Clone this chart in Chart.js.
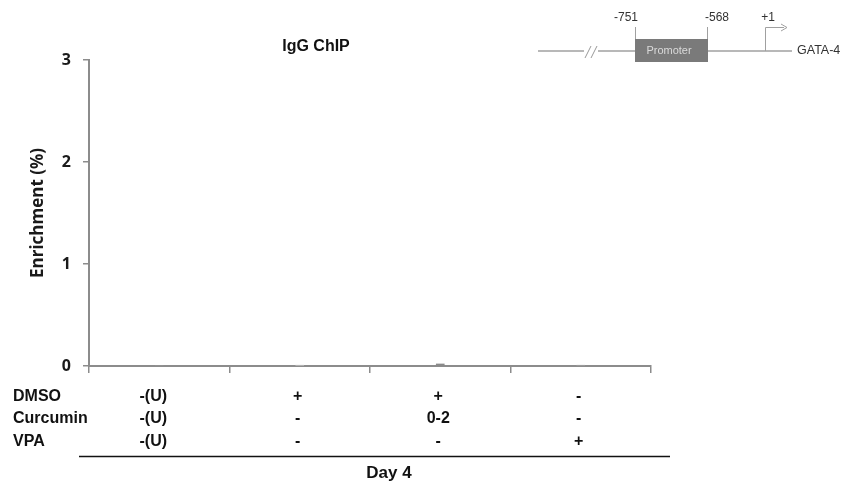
<!DOCTYPE html>
<html>
<head>
<meta charset="utf-8">
<script src="https://cdn.jsdelivr.net/npm/chart.js@4"></script>
<style>
  html, body { margin: 0; padding: 0; background: #fff; }
  #wrap { width: 843px; height: 489px; }
</style>
</head>
<body>
<div id="wrap"><canvas id="myChart" width="843" height="489"></canvas></div>
<script>
// data
let groups = ["g1", "g2", "g3", "g4"];
let enrichment = [0, 0.008, 0.02, 0.003];
let barColors = ["#9a9a9a", "#cfcfcf", "#8a8a8a", "#9a9a9a"];
let yTicks = [0, 1, 2, 3];
let rowNames = ["DMSO", "Curcumin", "VPA"];
let dmsoRow = ["-(U)", "+", "+", "-"];
let curcuminRow = ["-(U)", "-", "0-2", "-"];
let vpaRow = ["-(U)", "-", "-", "+"];

// table under the x axis, title and the promoter sketch
const extras = {
  id: "extras",
  afterDraw(chart) {
    let ctx = chart.ctx;
    let x = chart.scales.x;
    ctx.save();
    ctx.fillStyle = "#111";
    ctx.textBaseline = "middle";

    ctx.font = "bold 16px 'Liberation Sans', Arial";
    ctx.textAlign = "center";
    ctx.fillText("IgG ChIP", 316, 47);

    let rows = [dmsoRow, curcuminRow, vpaRow];
    let rowY = [397, 419, 442];
    ctx.font = "bold 16px 'Liberation Sans', Arial";
    rows.forEach(function (row, r) {
      ctx.textAlign = "left";
      ctx.fillText(rowNames[r], 13, rowY[r]);
      ctx.textAlign = "center";
      row.forEach(function (txt, i) {
        ctx.fillText(txt, x.getPixelForValue(i) - (i === 0 ? 6 : 2), rowY[r]);
      });
    });
    ctx.strokeStyle = "#111";
    ctx.lineWidth = 1.5;
    ctx.beginPath();
    ctx.moveTo(79, 456.5);
    ctx.lineTo(670, 456.5);
    ctx.stroke();
    ctx.font = "bold 17px 'Liberation Sans', Arial";
    ctx.textAlign = "center";
    ctx.fillText("Day 4", 389, 473);

    // promoter diagram
    ctx.strokeStyle = "#a0a0a0";
    ctx.lineWidth = 1.5;
    ctx.beginPath();
    ctx.moveTo(538, 51);
    ctx.lineTo(792, 51);
    ctx.stroke();
    ctx.fillStyle = "#fff";
    ctx.fillRect(584, 45, 14, 12);
    ctx.strokeStyle = "#999";
    ctx.lineWidth = 1;
    ctx.beginPath();
    ctx.moveTo(585, 58); ctx.lineTo(591, 46);
    ctx.moveTo(591, 58); ctx.lineTo(597, 46);
    ctx.stroke();
    ctx.fillStyle = "#7a7a7a";
    ctx.fillRect(635, 39, 73, 23);
    ctx.strokeStyle = "#a0a0a0";
    ctx.beginPath();
    ctx.moveTo(635.5, 27); ctx.lineTo(635.5, 39);
    ctx.moveTo(707.5, 27); ctx.lineTo(707.5, 39);
    ctx.moveTo(765.5, 51); ctx.lineTo(765.5, 27.5); ctx.lineTo(784, 27.5);
    ctx.stroke();
    ctx.beginPath();
    ctx.moveTo(781, 24); ctx.lineTo(787, 27.5); ctx.lineTo(781, 31);
    ctx.stroke();
    ctx.font = "11px 'Liberation Sans', Arial";
    ctx.fillStyle = "#dadada";
    ctx.textAlign = "center";
    ctx.fillText("Promoter", 669, 51);
    ctx.fillStyle = "#333";
    ctx.font = "12px 'Liberation Sans', Arial";
    ctx.textAlign = "right";
    ctx.fillText("-751", 638, 18);
    ctx.textAlign = "left";
    ctx.fillText("-568", 705, 18);
    ctx.textAlign = "center";
    ctx.fillText("+1", 768, 18);
    ctx.font = "12.5px 'Liberation Sans', Arial";
    ctx.textAlign = "left";
    ctx.fillText("GATA-4", 797, 51);
    ctx.restore();
  },
};

function createChart() {
  let chartInsertion = document.getElementById("myChart").getContext("2d");
  let enrichmentChart = new Chart(chartInsertion, {
    type: "bar",
    data: {
      labels: groups,
      datasets: [
        {
          label: "IgG",
          data: enrichment,
          backgroundColor: barColors,
          barThickness: 8,
        },
      ],
    },
    options: {
      responsive: false,
      animation: false,
      layout: { padding: { left: 0, right: 192, top: 60, bottom: 116 } },
      plugins: { legend: { display: false }, tooltip: { enabled: false } },
      scales: {
        x: {
          grid: {
            offset: true,
            drawOnChartArea: false,
            tickLength: 7,
            color: "#8c8c8c",
            lineWidth: 1.5,
          },
          border: { color: "#8c8c8c", width: 2 },
          ticks: { display: false },
          afterFit: function (scale) {
            scale.height = 7;
          },
        },
        y: {
          min: 0,
          max: 3,
          afterBuildTicks: function (scale) {
            scale.ticks = yTicks.map(function (v) {
              return { value: v };
            });
          },
          afterFit: function (scale) {
            scale.width = 89;
          },
          grid: {
            drawOnChartArea: false,
            tickLength: 6,
            color: "#8c8c8c",
            lineWidth: 1.5,
          },
          border: { color: "#8c8c8c", width: 2 },
          ticks: {
            padding: 12,
            color: "#1a1a1a",
            font: { family: "'Open Sans', sans-serif", size: 16, weight: "bold" },
          },
          title: {
            display: true,
            text: "Enrichment (%)",
            color: "#1a1a1a",
            padding: { top: 28, bottom: 0 },
            font: { family: "'Open Sans', sans-serif", size: 17, weight: "bold" },
          },
        },
      },
    },
    plugins: [extras],
  });
  return enrichmentChart;
}

createChart();
</script>
</body>
</html>
